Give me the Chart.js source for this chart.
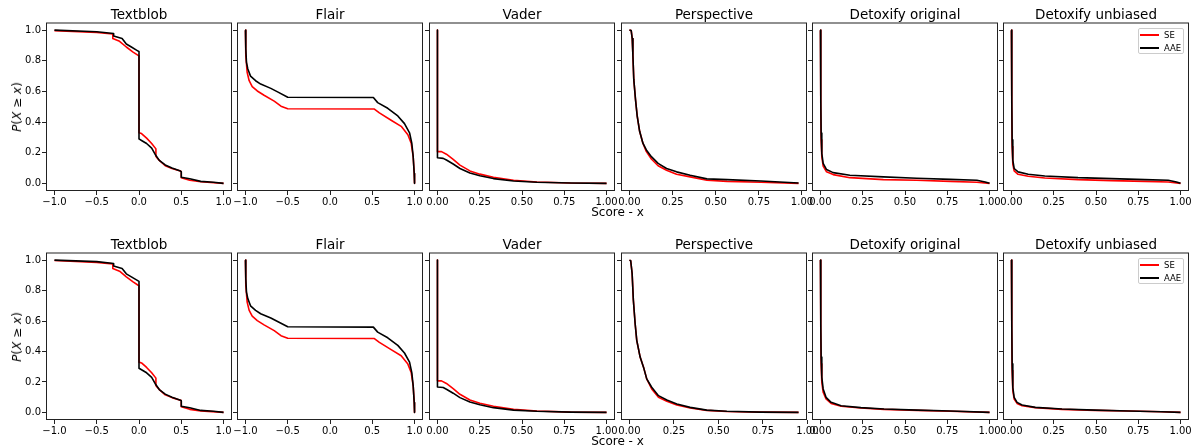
<!DOCTYPE html>
<html>
<head>
<meta charset="utf-8">
<script src="https://cdn.jsdelivr.net/npm/chart.js@4.4.1/dist/chart.umd.min.js"></script>
<style>
  body { margin: 0; background: #fff; width: 1201px; height: 448px; overflow: hidden; position: relative; font-family: "DejaVu Sans", sans-serif; }
  canvas { position: absolute; }
  .txt { position: absolute; white-space: nowrap; color: #000; }
  .ylab { font-size: 12px; transform: translate(-50%, -50%) rotate(-90deg); }
  .xlab { font-size: 12px; transform: translate(-50%, -50%); }
  .legend { position: absolute; width: 46px; height: 26px; border: 1px solid #cccccc; border-radius: 2px; background: rgba(255,255,255,0.8); box-sizing: border-box; }
  .legend .ln { position: absolute; left: 1px; width: 19px; height: 2px; }
  .legend .lt { position: absolute; left: 25px; font-size: 8.5px; transform: translateY(-50%); }
</style>
</head>
<body>
<script>
const titles = ['Textblob', 'Flair', 'Vader', 'Perspective', 'Detoxify original', 'Detoxify unbiased'];
const seriesNames = ['SE', 'AAE'];
const yTicks = [0, 0.2, 0.4, 0.6, 0.8, 1.0];
const yTickLabels = ['0.0', '0.2', '0.4', '0.6', '0.8', '1.0'];
const polarityTicks = [-1, -0.5, 0, 0.5, 1];
const polarityTickLabels = ['−1.0', '−0.5', '0.0', '0.5', '1.0'];
const scoreTicks = [0, 0.25, 0.5, 0.75, 1];
const scoreTickLabels = ['0.00', '0.25', '0.50', '0.75', '1.00'];

// curves as [score, P(X >= score)] pairs
const textblobSE = [[-1, 0.997], [-0.5, 0.985], [-0.31, 0.975], [-0.31, 0.945], [-0.23, 0.927], [-0.15, 0.89], [-0.07, 0.857], [-0.01, 0.835], [0, 0.833], [0, 0.33], [0.03, 0.325], [0.09, 0.295], [0.15, 0.26], [0.2, 0.225], [0.2, 0.175], [0.24, 0.15], [0.31, 0.115], [0.39, 0.097], [0.49, 0.08], [0.5, 0.077], [0.5, 0.037], [0.6, 0.02], [0.73, 0.01], [1, 0]];
const textblobAAE = [[-1, 1.0], [-0.5, 0.99], [-0.3, 0.978], [-0.3, 0.962], [-0.2, 0.945], [-0.15, 0.91], [-0.09, 0.89], [-0.03, 0.87], [0, 0.86], [0, 0.29], [0.03, 0.28], [0.09, 0.26], [0.15, 0.23], [0.19, 0.19], [0.24, 0.15], [0.31, 0.12], [0.39, 0.10], [0.49, 0.08], [0.5, 0.075], [0.5, 0.04], [0.6, 0.03], [0.73, 0.013], [0.88, 0.007], [1, 0]];
const flairSE = [[-1, 1.0], [-0.996, 0.835], [-0.98, 0.725], [-0.956, 0.67], [-0.92, 0.632], [-0.86, 0.603], [-0.78, 0.575], [-0.66, 0.537], [-0.58, 0.504], [-0.5, 0.487], [0.525, 0.485], [0.584, 0.46], [0.723, 0.412], [0.842, 0.372], [0.921, 0.317], [0.96, 0.262], [0.984, 0.174], [0.996, 0.064], [1, 0]];
const flairAAE = [[-1, 1.0], [-0.996, 0.88], [-0.988, 0.79], [-0.972, 0.747], [-0.94, 0.70], [-0.88, 0.67], [-0.82, 0.648], [-0.70, 0.62], [-0.62, 0.597], [-0.5, 0.562], [0.513, 0.56], [0.564, 0.527], [0.683, 0.49], [0.802, 0.44], [0.881, 0.39], [0.941, 0.33], [0.968, 0.26], [0.984, 0.174], [0.996, 0.064], [1, 0]];
const vaderSE = [[0, 1.0], [0, 0.207], [0.024, 0.207], [0.053, 0.19], [0.093, 0.156], [0.133, 0.119], [0.192, 0.081], [0.251, 0.06], [0.331, 0.04], [0.45, 0.02], [0.588, 0.009], [0.786, 0.002], [1, 0]];
const vaderAAE = [[0, 1.0], [0, 0.167], [0.034, 0.163], [0.053, 0.152], [0.093, 0.126], [0.133, 0.097], [0.192, 0.068], [0.251, 0.05], [0.331, 0.031], [0.45, 0.015], [0.588, 0.007], [0.786, 0.002], [1, 0]];
const perspectiveSE = [[0, 1.0], [0.01, 0.998], [0.016, 0.945], [0.02, 0.835], [0.025, 0.68], [0.035, 0.548], [0.045, 0.438], [0.059, 0.34], [0.078, 0.262], [0.098, 0.207], [0.127, 0.159], [0.166, 0.115], [0.215, 0.086], [0.273, 0.059], [0.352, 0.042], [0.449, 0.02], [0.566, 0.013], [0.762, 0.007], [0.98, 0]];
const perspectiveAAE = [[0, 1.0], [0.01, 0.998], [0.016, 0.945], [0.02, 0.835], [0.025, 0.68], [0.035, 0.548], [0.045, 0.438], [0.059, 0.34], [0.078, 0.262], [0.098, 0.218], [0.127, 0.174], [0.166, 0.13], [0.215, 0.097], [0.273, 0.075], [0.352, 0.053], [0.449, 0.029], [0.566, 0.024], [0.762, 0.015], [0.98, 0.002]];
const detoxOrigSE = [[0, 1.0], [0.002, 0.504], [0.004, 0.284], [0.008, 0.174], [0.016, 0.112], [0.036, 0.075], [0.075, 0.057], [0.174, 0.037], [0.372, 0.024], [0.569, 0.02], [0.767, 0.013], [0.925, 0.007], [1, 0]];
const detoxOrigAAE = [[0, 1.0], [0.002, 0.548], [0.004, 0.328], [0.008, 0.196], [0.016, 0.13], [0.036, 0.09], [0.075, 0.07], [0.174, 0.053], [0.372, 0.042], [0.569, 0.033], [0.767, 0.026], [0.925, 0.02], [0.974, 0.009], [1, 0]];
const detoxUnbSE = [[0, 1.0], [0.002, 0.5], [0.004, 0.24], [0.008, 0.126], [0.016, 0.081], [0.039, 0.059], [0.099, 0.046], [0.197, 0.035], [0.394, 0.024], [0.592, 0.018], [0.789, 0.013], [0.927, 0.009], [1, 0]];
const detoxUnbAAE = [[0, 1.0], [0.002, 0.548], [0.004, 0.284], [0.008, 0.152], [0.016, 0.097], [0.039, 0.075], [0.099, 0.059], [0.197, 0.048], [0.394, 0.037], [0.592, 0.031], [0.789, 0.024], [0.927, 0.02], [0.976, 0.009], [1, 0]];
// second row: the last three panels differ
const perspective2SE = [[0, 1.0], [0.007, 0.996], [0.015, 0.912], [0.022, 0.736], [0.032, 0.582], [0.041, 0.473], [0.06, 0.363], [0.079, 0.297], [0.097, 0.22], [0.125, 0.154], [0.163, 0.099], [0.21, 0.073], [0.266, 0.048], [0.341, 0.029], [0.434, 0.013], [0.547, 0.006], [0.734, 0.002], [0.95, 0]];
const perspective2AAE = [[0, 1.0], [0.007, 0.996], [0.015, 0.912], [0.022, 0.736], [0.032, 0.582], [0.041, 0.473], [0.06, 0.363], [0.079, 0.297], [0.097, 0.22], [0.125, 0.165], [0.163, 0.11], [0.21, 0.081], [0.266, 0.055], [0.341, 0.033], [0.434, 0.015], [0.547, 0.007], [0.734, 0.002], [0.95, 0]];
const detoxOrig2SE = [[0, 1.0], [0.002, 0.538], [0.004, 0.319], [0.008, 0.198], [0.016, 0.132], [0.033, 0.088], [0.063, 0.059], [0.122, 0.04], [0.239, 0.029], [0.376, 0.02], [0.573, 0.013], [0.769, 0.007], [1, 0]];
const detoxOrig2AAE = [[0, 1.0], [0.002, 0.582], [0.004, 0.363], [0.008, 0.231], [0.016, 0.154], [0.033, 0.099], [0.063, 0.066], [0.122, 0.044], [0.239, 0.031], [0.376, 0.022], [0.573, 0.015], [0.769, 0.009], [1, 0]];
const detoxUnb2SE = [[0, 1.0], [0.002, 0.538], [0.004, 0.275], [0.008, 0.143], [0.016, 0.088], [0.033, 0.059], [0.063, 0.044], [0.141, 0.031], [0.299, 0.02], [0.495, 0.013], [0.692, 0.009], [0.888, 0.004], [1, 0]];
const detoxUnb2AAE = [[0, 1.0], [0.002, 0.582], [0.004, 0.319], [0.008, 0.165], [0.016, 0.099], [0.033, 0.066], [0.063, 0.048], [0.141, 0.033], [0.299, 0.022], [0.495, 0.015], [0.692, 0.009], [0.888, 0.004], [1, 0]];

// layout (pixels)
const panelX = [46, 237, 429, 621, 812, 1003];
const panelW = 186;
const rowTop = [23, 253];
const rowH = [168, 167];
const PAD = 46, TOP = 23, XAX = 20;
const FONT = 'DejaVu Sans';

const frame = {
  id: 'frame',
  afterDatasetsDraw(chart) {
    const {ctx, chartArea: a} = chart;
    ctx.save();
    ctx.strokeStyle = '#222';
    ctx.lineWidth = 1;
    ctx.strokeRect(a.left + 0.5, a.top + 0.5, a.right - a.left - 1, a.bottom - a.top - 1);
    ctx.restore();
  }
};

function tickAxis(min, max, ticks, labels, showLabels) {
  return {
    type: 'linear', min: min, max: max,
    afterBuildTicks: ax => { ax.ticks = ticks.map(v => ({value: v})); },
    ticks: {display: showLabels, autoSkip: false, maxRotation: 0, padding: 1, color: '#000',
      font: {family: FONT, size: 10}, callback: (v, i) => labels[i]},
    grid: {drawOnChartArea: false, drawTicks: true, tickLength: 4, tickColor: '#222', lineWidth: 1},
    border: {display: false}
  };
}

function panel(row, col, se, aae, xMin, xMax, xt, xl) {
  const c = document.createElement('canvas');
  const w = PAD + panelW + PAD, h = TOP + rowH[row] + XAX;
  c.width = w; c.height = h;
  c.style.left = (panelX[col] - PAD) + 'px';
  c.style.top = (rowTop[row] - TOP) + 'px';
  document.body.appendChild(c);
  const x = tickAxis(xMin, xMax, xt, xl, true);
  x.afterFit = s => { s.height = XAX; s.paddingLeft = 0; s.paddingRight = 0; };
  const y = tickAxis(-0.05, 1.05, yTicks, yTickLabels, col === 0);
  y.afterFit = s => { s.width = PAD; s.paddingTop = 0; s.paddingBottom = 0; };
  new Chart(c, {
    type: 'line',
    data: {datasets: [
      {label: seriesNames[0], data: se, borderColor: '#ff0000', order: 1},
      {label: seriesNames[1], data: aae, borderColor: '#000000', order: 0}
    ]},
    options: {
      responsive: false, animation: false, devicePixelRatio: 1,
      layout: {padding: {left: 0, right: PAD, top: 1, bottom: 0}},
      elements: {line: {borderWidth: 1.6, tension: 0, borderJoinStyle: 'round', fill: false}, point: {radius: 0}},
      plugins: {
        legend: {display: false}, tooltip: {enabled: false},
        title: {display: true, text: titles[col], fullSize: false, color: '#000',
          font: {family: FONT, size: 13.5, weight: 'normal', lineHeight: 1}, padding: {top: 8, bottom: 0}}
      },
      scales: {x: x, y: y}
    },
    plugins: [frame]
  });
}

function text(cls, html, left, top) {
  const d = document.createElement('div');
  d.className = 'txt ' + cls;
  d.innerHTML = html;
  d.style.left = left + 'px'; d.style.top = top + 'px';
  document.body.appendChild(d);
}

function legend(top) {
  const d = document.createElement('div');
  d.className = 'legend';
  d.style.left = '1138px'; d.style.top = top + 'px';
  d.innerHTML =
    '<div class="ln" style="top:5px;background:#ff0000"></div><div class="txt lt" style="top:6px">' + seriesNames[0] + '</div>' +
    '<div class="ln" style="top:18px;background:#000"></div><div class="txt lt" style="top:19px">' + seriesNames[1] + '</div>';
  document.body.appendChild(d);
}

const rows = [
  [[textblobSE, textblobAAE], [flairSE, flairAAE], [vaderSE, vaderAAE], [perspectiveSE, perspectiveAAE], [detoxOrigSE, detoxOrigAAE], [detoxUnbSE, detoxUnbAAE]],
  [[textblobSE, textblobAAE], [flairSE, flairAAE], [vaderSE, vaderAAE], [perspective2SE, perspective2AAE], [detoxOrig2SE, detoxOrig2AAE], [detoxUnb2SE, detoxUnb2AAE]]
];
const xRanges = [
  [[-1.1, 1.1], [-1.1, 1.1], [-0.05, 1.05], [-0.049, 1.029], [-0.05, 1.05], [-0.05, 1.05]],
  [[-1.1, 1.1], [-1.1, 1.1], [-0.05, 1.05], [-0.0475, 0.9975], [-0.05, 1.05], [-0.05, 1.05]]
];

rows.forEach((r, ri) => {
  r.forEach((pair, ci) => {
    const pol = ci < 2;
    panel(ri, ci, pair[0], pair[1], xRanges[ri][ci][0], xRanges[ri][ci][1],
      pol ? polarityTicks : scoreTicks, pol ? polarityTickLabels : scoreTickLabels);
  });
  const top = rowTop[ri], hh = rowH[ri];
  text('ylab', '<i>P</i>(<i>X</i> ≥ <i>x</i>)', 16.5, top + hh / 2);
  text('xlab', 'Score - x', 617.5, top + hh + 21);
  legend(top + 5);
});
</script>
</body>
</html>
